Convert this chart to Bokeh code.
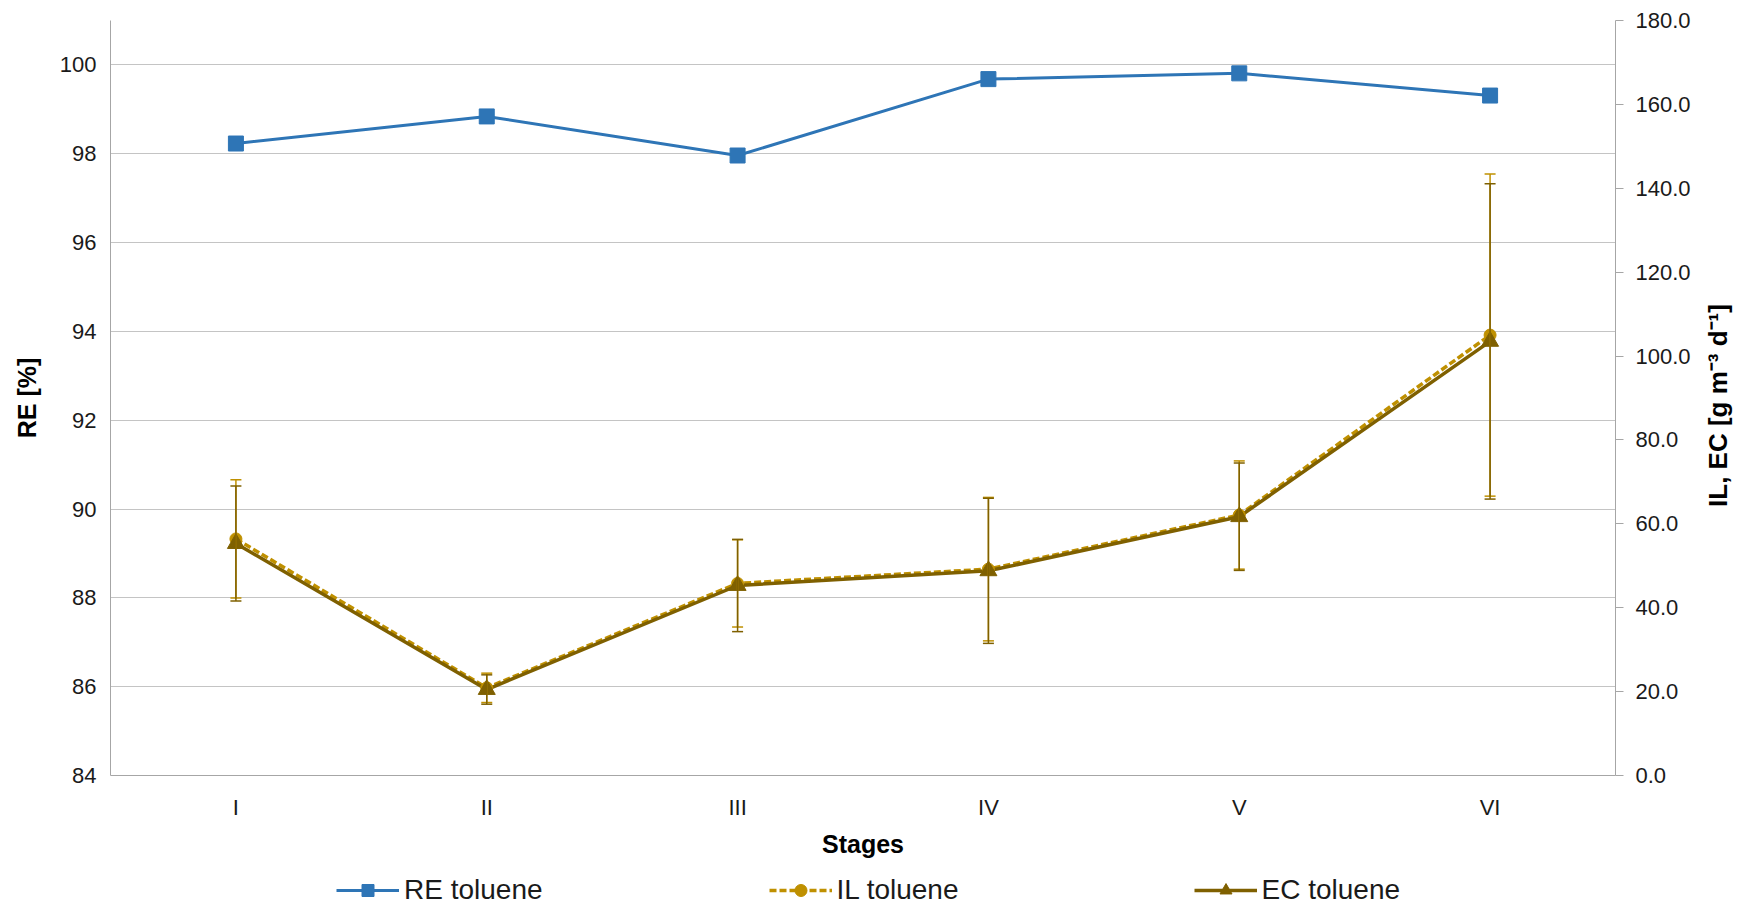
import math
from bokeh.plotting import figure
from bokeh.layouts import row, column
from bokeh.models import (ColumnDataSource, FactorRange, Range1d, LinearAxis, FixedTicker,
                          PrintfTickFormatter, Whisker, TeeHead, Legend, LegendItem, Grid, Label)
from bokeh.embed import file_html
from bokeh.resources import INLINE

# ---- data ----
stages = ["I", "II", "III", "IV", "V", "VI"]
re_toluene = [98.23, 98.84, 97.96, 99.68, 99.81, 99.31]
il_toluene = [56.4, 20.9, 45.8, 49.2, 62.1, 105.0]
il_err = [14.1, 3.5, 10.4, 17.1, 12.9, 38.4]
ec_toluene = [55.3, 20.5, 45.3, 48.8, 61.7, 103.5]
ec_err = [13.7, 3.5, 11.0, 17.3, 12.8, 37.6]
left_ticks = [84, 86, 88, 90, 92, 94, 96, 98, 100]
right_ticks = [0, 20, 40, 60, 80, 100, 120, 140, 160, 180]

RE_COLOR = "#2E75B6"
IL_COLOR = "#BF9000"
EC_COLOR = "#7F6000"
FONT = "Liberation Sans"
AXIS_GREY = "#a6a6a6"

src = ColumnDataSource(dict(
    x=stages, re=re_toluene, il=il_toluene, ec=ec_toluene,
    il_up=[v + e for v, e in zip(il_toluene, il_err)],
    il_lo=[v - e for v, e in zip(il_toluene, il_err)],
    ec_up=[v + e for v, e in zip(ec_toluene, ec_err)],
    ec_lo=[v - e for v, e in zip(ec_toluene, ec_err)],
))

# ---------------- main chart ----------------
p = figure(frame_width=1505, frame_height=755, x_range=FactorRange(*stages), y_range=Range1d(84, 101),
           output_backend="svg", toolbar_location=None,
           min_border_left=110, min_border_right=85, min_border_top=20, min_border_bottom=98)
p.outline_line_color = None
p.extra_y_ranges = {"right": Range1d(0, 180)}

p.xgrid.visible = False
p.ygrid.ticker = FixedTicker(ticks=left_ticks)
p.ygrid.grid_line_color = "#c4c4c4"
p.ygrid.grid_line_width = 1

ya = p.yaxis[0]
ya.ticker = FixedTicker(ticks=left_ticks)
ya.axis_label = "RE [%]"
ya.axis_label_text_font = FONT
ya.axis_label_text_font_style = "bold"
ya.axis_label_text_font_size = "25px"
ya.axis_label_text_color = "black"
ya.axis_label_standoff = 16
ya.major_label_text_font = FONT
ya.major_label_text_font_size = "22px"
ya.major_label_text_color = "#1a1a1a"
ya.major_label_standoff = 14
ya.major_tick_out = 0
ya.major_tick_in = 0
ya.minor_tick_out = 0
ya.minor_tick_in = 0
ya.axis_line_color = AXIS_GREY

xa = p.xaxis[0]
xa.axis_label = "Stages"
xa.axis_label_text_font = FONT
xa.axis_label_text_font_style = "bold"
xa.axis_label_text_font_size = "25px"
xa.axis_label_text_color = "black"
xa.axis_label_standoff = 7
xa.major_label_text_font = FONT
xa.major_label_text_font_size = "22px"
xa.major_label_text_color = "#1a1a1a"
xa.major_label_standoff = 19
xa.major_tick_out = 0
xa.major_tick_in = 0
xa.axis_line_color = AXIS_GREY

ra = LinearAxis(y_range_name="right", ticker=FixedTicker(ticks=right_ticks),
                formatter=PrintfTickFormatter(format="%.1f"))
ra.major_label_text_font = FONT
ra.major_label_text_font_size = "22px"
ra.major_label_text_color = "#1a1a1a"
ra.major_label_standoff = 12
ra.major_tick_out = 8
ra.major_tick_in = 0
ra.minor_tick_out = 0
ra.minor_tick_in = 0
ra.major_tick_line_color = AXIS_GREY
ra.axis_line_color = AXIS_GREY
p.add_layout(ra, "right")

il_w = Whisker(base="x", upper="il_up", lower="il_lo", source=src, y_range_name="right",
               line_color=IL_COLOR, line_width=1.5, level="glyph",
               upper_head=TeeHead(size=11, line_color=IL_COLOR, line_width=1.5),
               lower_head=TeeHead(size=11, line_color=IL_COLOR, line_width=1.5))
ec_w = Whisker(base="x", upper="ec_up", lower="ec_lo", source=src, y_range_name="right",
               line_color=EC_COLOR, line_width=1.5, level="glyph",
               upper_head=TeeHead(size=11, line_color=EC_COLOR, line_width=1.5),
               lower_head=TeeHead(size=11, line_color=EC_COLOR, line_width=1.5))
p.add_layout(il_w)
p.add_layout(ec_w)


def draw_series(fig, right_name):
    re_l = fig.line("x", "re", source=src, line_color=RE_COLOR, line_width=3)
    re_s = fig.scatter("x", "re", source=src, marker="square", size=15,
                       fill_color=RE_COLOR, line_color=RE_COLOR)
    il_l = fig.line("x", "il", source=src, y_range_name=right_name, line_color=IL_COLOR,
                    line_width=3.5, line_dash="7 3")
    ec_l = fig.line("x", "ec", source=src, y_range_name=right_name, line_color=EC_COLOR,
                    line_width=3.5)
    il_s = fig.scatter("x", "il", source=src, y_range_name=right_name, marker="circle", size=12,
                       fill_color=IL_COLOR, line_color=IL_COLOR)
    ec_s = fig.scatter("x", "ec", source=src, y_range_name=right_name, marker="triangle", size=17,
                       fill_color=EC_COLOR, line_color=EC_COLOR)
    return re_l, re_s, il_l, il_s, ec_l, ec_s


draw_series(p, "right")

# ---------------- right-hand axis title strip (reads bottom-to-top) ----------------
p2 = figure(width=40, height=873, x_range=Range1d(0, 40), y_range=Range1d(0, 873),
            x_axis_location=None, y_axis_location=None, output_backend="svg", toolbar_location=None,
            min_border_left=0, min_border_right=0, min_border_top=0, min_border_bottom=0)
p2.outline_line_color = None
for g in p2.select(type=Grid):
    g.visible = False
p2.add_layout(Label(x=17, y=370, x_units="screen", y_units="screen",
                    text="IL, EC [g m\u207b\u00b3 d\u207b\u00b9]", angle=math.pi / 2,
                    text_align="center", text_baseline="middle",
                    text_font=FONT, text_font_style="bold", text_font_size="26px",
                    text_color="black"))

# ---------------- legend strip ----------------
p3 = figure(width=1740, height=33, x_range=FactorRange(*stages), y_range=Range1d(1000, 1001),
            x_axis_location=None, y_axis_location=None, output_backend="svg", toolbar_location=None,
            min_border_left=0, min_border_right=0, min_border_top=0, min_border_bottom=0)
p3.extra_y_ranges = {"right": Range1d(1000, 1001)}
p3.outline_line_color = None
for g in p3.select(type=Grid):
    g.visible = False
re_l, re_s, il_l, il_s, ec_l, ec_s = draw_series(p3, "right")
leg = Legend(items=[LegendItem(label="RE toluene", renderers=[re_l, re_s]),
                    LegendItem(label="IL toluene", renderers=[il_l, il_s]),
                    LegendItem(label="EC toluene", renderers=[ec_l, ec_s])],
             location=(336, 0), orientation="horizontal",
             padding=0, margin=0, spacing=226, border_line_color=None, background_fill_alpha=0,
             glyph_width=63, glyph_height=30, label_height=30, label_width=131, label_standoff=5,
             label_text_font=FONT, label_text_font_size="28px", label_text_color="#1a1a1a")
p3.add_layout(leg)

layout = column(row(p, p2), p3)
open("out.html", "w").write(file_html(layout, INLINE))
